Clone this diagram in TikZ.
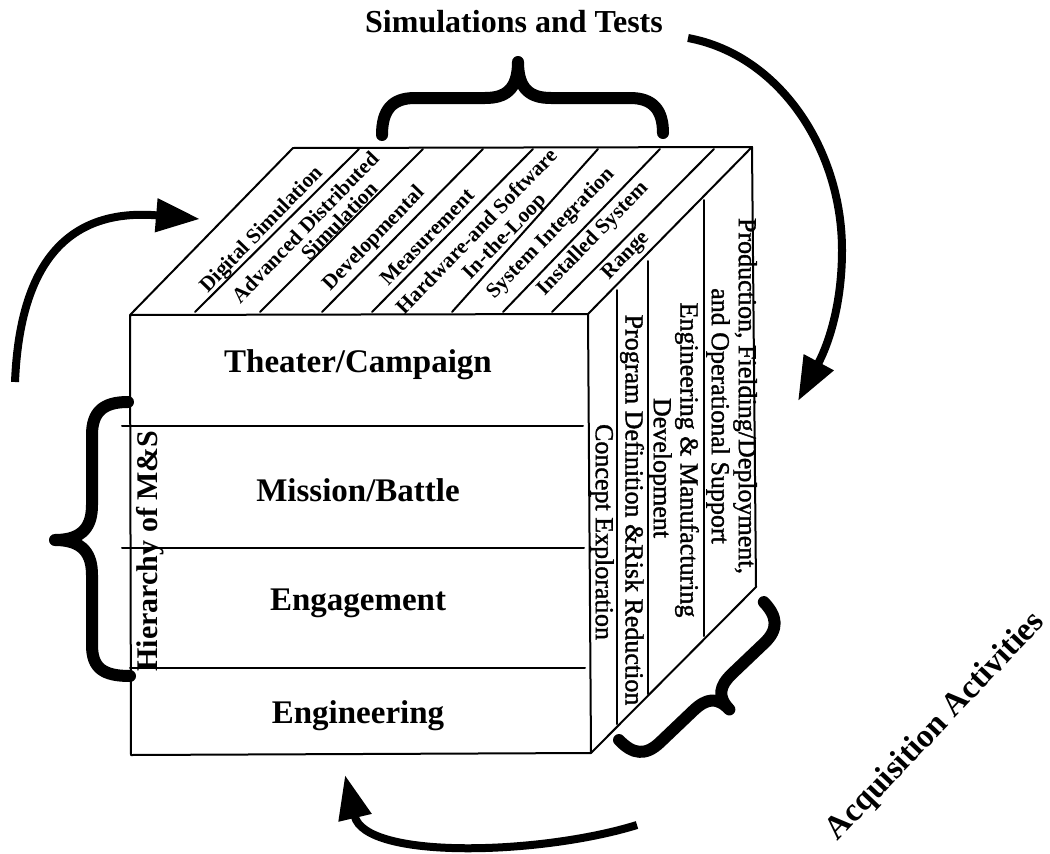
\documentclass[tikz,border=0pt]{standalone}
\usepackage{fontspec}
\setmainfont{Liberation Serif}
\newfontfamily\sidefont[FakeBold=1.3]{Liberation Serif}
\usetikzlibrary{arrows.meta}
\begin{document}
\begin{tikzpicture}[x=1pt,y=-1pt,
  edge/.style={line width=2pt, line join=round, line cap=round},
  arr/.style={line width=8pt, -{Triangle[length=44pt,width=32pt]}},
  brace/.style={line width=12pt, line cap=round, line join=round},
  frontlab/.style={font=\fontsize{33}{36}\selectfont\bfseries, inner sep=0pt},
  toplab/.style={font=\fontsize{21.3}{23}\selectfont\bfseries, rotate=45.9, inner sep=0pt},
  sidelab/.style={font=\sidefont\fontsize{26}{28}\selectfont, rotate=-90, inner sep=0pt},
  biglab/.style={font=\fontsize{32}{36}\selectfont\bfseries, inner sep=0pt}]
\useasboundingbox (0,0) rectangle (1050,854);

% cube corners
\coordinate (FTL) at (130,315);
\coordinate (FTR) at (588,314);
\coordinate (FBR) at (591,753);
\coordinate (FBL) at (131,755);
\coordinate (BTL) at (293,148);
\coordinate (BTR) at (752,147);
\coordinate (BBR) at (756,587);

\draw[edge] (FTL) -- (FTR) -- (FBR) -- (FBL) -- cycle;
\draw[edge] (FTL) -- (BTL) -- (BTR) -- (FTR);
\draw[edge] (BTR) -- (BBR) -- (FBR);

% top face strips
\foreach \a/\b in {195/359, 260/423, 322/483, 372/533, 452/598, 503/660, 552/714}
  \draw[edge] (\a,312) -- (\b,149);

% right face strips
\draw[edge] (617,290) -- (617,724);
\draw[edge] (648,261) -- (648,694);
\draw[edge] (704,200) -- (704,636);

% front face bands
\draw[edge] (122,426) -- (583,426);
\draw[edge] (122,548) -- (584,548);
\draw[edge] (130,668) -- (585,668);

% front labels
\node[frontlab] (theater) at (358,365) {Theater/Campaign};
\node[frontlab] (mission) at (358,490) {Mission/Battle};
\node[frontlab] (engage)  at (358,603) {Engagement};
\node[frontlab] (engin)   at (358,716) {Engineering};

% top labels
\node[toplab] (dig)  at (262,230) {Digital Simulation};
\node[toplab] (ads)  at (305,227) {Advanced Distributed};
\node[toplab] (ads2) at (339,221) {Simulation};
\node[toplab] (dev)  at (374,239) {Developmental};
\node[toplab] (meas) at (427,237) {Measurement};
\node[toplab] (hw)   at (476,231) {Hardware-and Software};
\node[toplab] (itl)  at (505,237) {In-the-Loop};
\node[toplab] (sys)  at (551,234) {System Integration};
\node[toplab] (inst) at (593,239) {Installed System};
\node[toplab] (rng)  at (626,256) {Range};

% right face labels
\node[sidelab] (concept) at (602,532) {Concept Exploration};
\node[sidelab] (prog)    at (632,510) {Program Definition \&Risk Reduction};
\node[sidelab] (emd)     at (687,460) {Engineering \& Manufacturing};
\node[sidelab] (emd2)    at (660,468) {Development};
\node[sidelab] (prod)    at (745,396) {Production, Fielding/Deployment,};
\node[sidelab] (prod2)   at (718,416) {and Operational Support};

% outer labels
\node[biglab] (simtest) at (514,22) {Simulations and Tests};
\node[biglab, rotate=90, font=\fontsize{30}{34}\selectfont\bfseries] (hier) at (150,551) {Hierarchy of M\&S};
\node[biglab, rotate=46.5, font=\fontsize{33}{36}\selectfont\bfseries] (acq) at (936,727) {Acquisition Activities};

% braces
\draw[brace] (382,135) .. controls (382,110) and (392,98) .. (415,98) -- (485,98)
  .. controls (505,98) and (518,90) .. (518,62)
  .. controls (518,90) and (531,98) .. (551,98) -- (630,98)
  .. controls (653,98) and (663,110) .. (663,133);
\draw[brace] (128,402) .. controls (103,402) and (92,412) .. (92,435) -- (92,505)
  .. controls (92,525) and (84,540) .. (55,540)
  .. controls (84,540) and (92,555) .. (92,575) -- (92,645)
  .. controls (92,668) and (103,676) .. (130,676);
\begin{scope}[shift={(619,740)}, rotate=43.6]
\draw[brace] (0,0) .. controls (0,20) and (8,30) .. (28,30) -- (74,30)
  .. controls (92,30) and (101,36) .. (101,54)
  .. controls (101,36) and (110,30) .. (128,30) -- (172,30)
  .. controls (192,30) and (200,20) .. (200,0);
\end{scope}

% arrows
\coordinate (a1s) at (688,38);
\coordinate (a1m) at (842,250);
\coordinate (a1e) at (798,401);
\coordinate (a2s) at (15,382);
\coordinate (a2e) at (200,219);
\coordinate (a3s) at (637,825);
\coordinate (a3e) at (345,775);
\draw[arr] (a1s) .. controls (780,55) and (842,150) .. (a1m)
  .. controls (842,320) and (820,360) .. (a1e);
\draw[arr] (a2s) .. controls (20,260) and (70,208) .. (a2e);
\draw[arr] (a3s) .. controls (540,855) and (365,860) .. (a3e);
\end{tikzpicture}
\end{document}
